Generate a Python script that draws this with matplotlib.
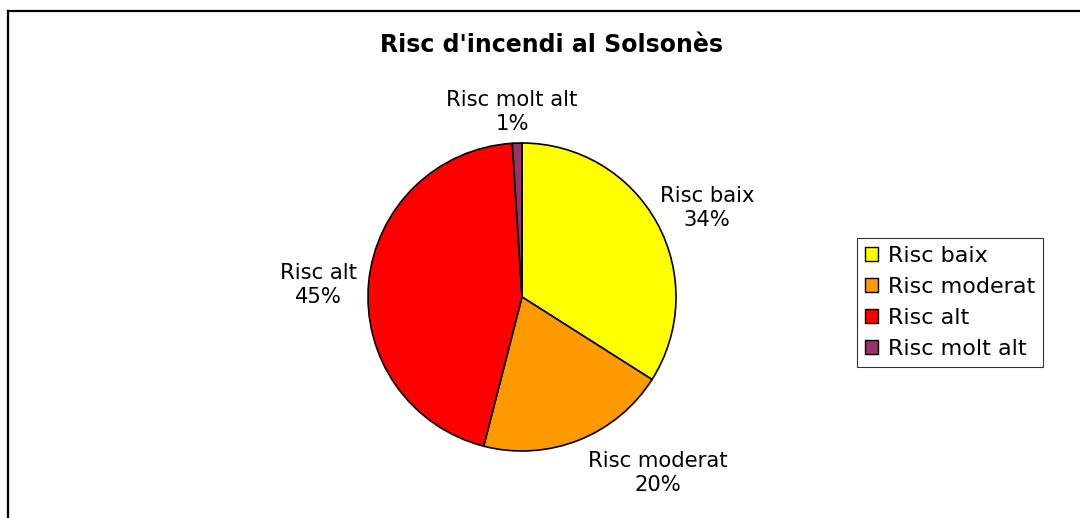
import matplotlib
matplotlib.use("Agg")
import matplotlib.pyplot as plt
from matplotlib.patches import Patch
from matplotlib.lines import Line2D

categories = ["Risc baix", "Risc moderat", "Risc alt", "Risc molt alt"]
shares = [34, 20, 45, 1]
colors = ["#FFFF00", "#FF9900", "#FF0000", "#993366"]
title = "Risc d'incendi al Solsonès"

# label anchor offsets, in pie-radius units from the centre
label_pos = [(1.20, 0.58), (0.88, -1.14), (-1.32, 0.08), (-0.065, 1.20)]

W, H, DPI = 1080, 518, 100
fig = plt.figure(figsize=(W / DPI, H / DPI), dpi=DPI)
fig.patch.set_facecolor("white")

# pie axes: centre (522, 297) px, radius 154 px
cx, cy, r = 522, 297, 154
L = 1.5
side = 2 * L * r
ax = fig.add_axes([(cx - side / 2) / W, (H - cy - side / 2) / H, side / W, side / H])

wedges, _ = ax.pie(shares, colors=colors, startangle=90, counterclock=False,
                   radius=1.0, wedgeprops=dict(edgecolor="black", linewidth=1.2))
ax.set_xlim(-L, L)
ax.set_ylim(-L, L)
ax.set_aspect("equal")
ax.axis("off")

for name, val, (lx, ly) in zip(categories, shares, label_pos):
    ax.text(lx, ly, f"{name}\n{val}%", ha="center", va="center",
            fontsize=15.2, linespacing=1.25, color="black")

fig.text(551 / W, 1 - 45 / H, title, ha="center", va="center",
         fontsize=17, fontweight="bold")

# outer frame (left and top edges)
fig.add_artist(Line2D([7.5 / W, 7.5 / W], [0, 1 - 11 / H], transform=fig.transFigure,
                      color="black", linewidth=1.6))
fig.add_artist(Line2D([7.5 / W, 1], [1 - 11 / H, 1 - 11 / H], transform=fig.transFigure,
                      color="black", linewidth=1.6))

handles = [Patch(facecolor=c, edgecolor="black", linewidth=1.0) for c in colors]
leg = fig.legend(handles, categories, loc="upper left",
                 bbox_to_anchor=(857 / W, 1 - 238 / H), fontsize=16,
                 frameon=True, fancybox=False, handlelength=0.6, handleheight=0.6,
                 handletextpad=0.45, borderpad=0.35, labelspacing=0.5, borderaxespad=0)
leg.get_frame().set_edgecolor("black")
leg.get_frame().set_linewidth(0.8)

fig.savefig("out.png", dpi=DPI, facecolor="white")
